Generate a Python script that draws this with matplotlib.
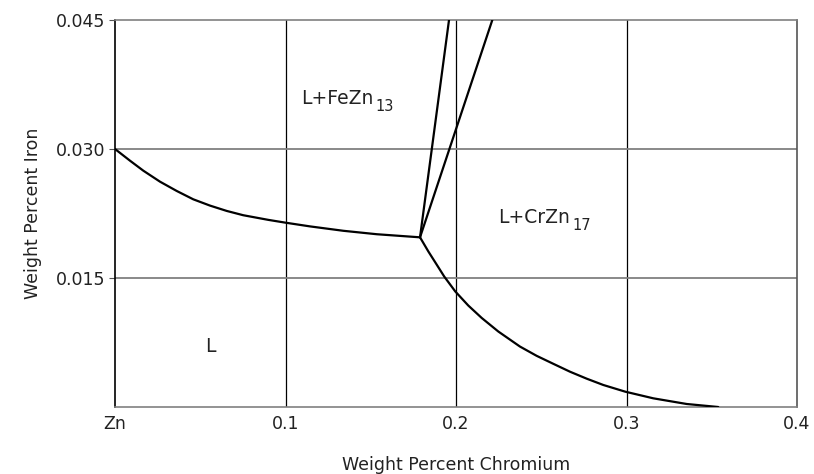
import matplotlib
matplotlib.use("Agg")
import matplotlib.pyplot as plt

# FeZn13 liquidus from pure Zn to the eutectic point (wt% Cr, wt% Fe)
fe_liq_x = [0.0, 0.0088, 0.0166, 0.0264, 0.0362, 0.0459, 0.0557, 0.0655,
            0.0752, 0.0899, 0.1001, 0.1144, 0.1339, 0.1535, 0.1789]
fe_liq_y = [0.030, 0.02864, 0.02748, 0.02620, 0.02512, 0.02415, 0.02342, 0.02280,
            0.02230, 0.02176, 0.02143, 0.02100, 0.02049, 0.02009, 0.01973]

# CrZn17 liquidus from the eutectic down to the Cr axis
cr_liq_x = [0.1789, 0.1838, 0.1887, 0.1931, 0.1996, 0.2072, 0.2151, 0.2248, 0.2375,
            0.2473, 0.2571, 0.2669, 0.2767, 0.2864, 0.2993, 0.3157, 0.3353, 0.3538]
cr_liq_y = [0.01973, 0.01808, 0.01655, 0.01517, 0.01343, 0.01180, 0.01035, 0.00878, 0.00703,
            0.00595, 0.00502, 0.00410, 0.00329, 0.00256, 0.00178, 0.00101, 0.00035, 0.0]

# two straight boundaries going up from the eutectic
line1_x = [0.1789, 0.1959]
line1_y = [0.01973, 0.045]
line2_x = [0.1789, 0.2213]
line2_y = [0.01973, 0.045]

xticks = [0.0, 0.1, 0.2, 0.3, 0.4]
xticklabels = ["Zn", "0.1", "0.2", "0.3", "0.4"]
yticks = [0.015, 0.030, 0.045]
yticklabels = ["0.015", "0.030", "0.045"]

plt.rcParams['font.family'] = ['DejaVu Sans']
txt_col = '#222222'

fig = plt.figure(figsize=(8.14, 4.74), dpi=100)
ax = fig.add_axes([115/814, 1 - 407/474, 682/814, 387/474])
ax.set_xlim(0, 0.4)
ax.set_ylim(0, 0.045)

# grid: vertical black, horizontal gray
for gx in [0.1, 0.2, 0.3]:
    ax.axvline(gx, color='black', lw=0.9, zorder=1)
for gy in [0.015, 0.030]:
    ax.axhline(gy, color='#808080', lw=1.3, zorder=1)

kw = dict(color='black', lw=1.6, zorder=3, solid_joinstyle='round', solid_capstyle='round')
ax.plot(fe_liq_x, fe_liq_y, **kw)
ax.plot(cr_liq_x, cr_liq_y, **kw)
ax.plot(line1_x, line1_y, **kw)
ax.plot(line2_x, line2_y, **kw)

# phase labels, subscripts placed after the main text
def phase_label(x, y, main, sub, drop):
    t = ax.text(x, y, main, fontsize=13.5, color=txt_col, va='baseline', ha='left')
    ax.annotate(sub, xy=(1, 0), xycoords=t, xytext=(1.5, -drop), textcoords='offset points',
                fontsize=10.5, color=txt_col, va='baseline', ha='left')

phase_label(0.1089, 0.0352, "L+FeZn", "13", 2.0)
phase_label(0.2248, 0.0214, "L+CrZn", "17", 2.5)
ax.text(0.053, 0.0070, "L", fontsize=13.5, color=txt_col, va='center')

ax.set_xticks(xticks)
ax.set_xticklabels(xticklabels)
ax.set_yticks(yticks)
ax.set_yticklabels(yticklabels)
ax.tick_params(axis='x', length=0, pad=6, labelsize=12.5, labelcolor=txt_col)
ax.tick_params(axis='y', length=4, pad=3, labelsize=12.5, labelcolor=txt_col, color='#555555')

ax.set_xlabel("Weight Percent Chromium", fontsize=12.5, color=txt_col, labelpad=16)
ax.set_ylabel("Weight Percent Iron", fontsize=12.5, color=txt_col, labelpad=10)

ax.spines['left'].set_color('black')
ax.spines['right'].set_color('#555555')
ax.spines['top'].set_color('#808080')
ax.spines['bottom'].set_color('#808080')
for s in ax.spines.values():
    s.set_linewidth(1.2)

fig.savefig("out.png", dpi=100)
